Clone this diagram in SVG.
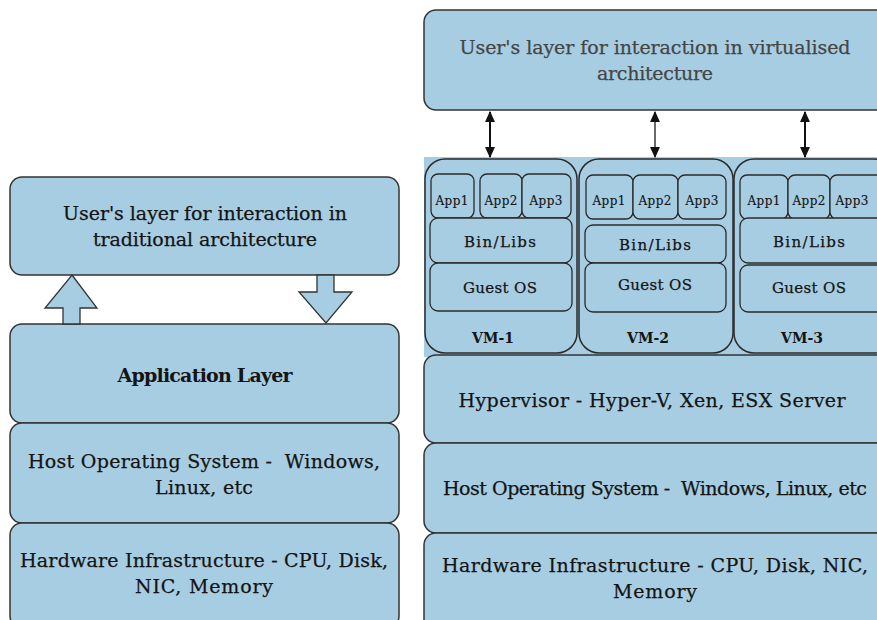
<svg xmlns="http://www.w3.org/2000/svg" width="877" height="620" viewBox="0 0 877 620">
  <defs>
    <marker id="ah" viewBox="0 0 10 10" refX="9" refY="5" markerWidth="11" markerHeight="11" markerUnits="userSpaceOnUse" orient="auto-start-reverse">
      <path d="M0,0.5 L10,5 L0,9.5 Z" fill="#111"/>
    </marker>
  </defs>
  <style>
    .box { fill: #a7cde2; stroke: #333; stroke-width: 1.5; }
    .vm { fill: #a7cde2; stroke: #2a2a2a; stroke-width: 1.5; }
    .in { fill: #a7cde2; stroke: #2a2a2a; stroke-width: 1.3; }
    .fat { fill: #a7cde2; stroke: #333; stroke-width: 1.3; stroke-linejoin: miter; }
    text { font-family: "DejaVu Serif", "Liberation Serif", serif; fill: #141414; text-anchor: middle; stroke: #141414; stroke-width: 0.25; }
    .t { font-size: 19px; }
    .tb { font-size: 19px; font-weight: bold; stroke-width: 0; }
    .title { font-size: 19px; fill: #454545; stroke: #454545; }
    .s { font-size: 12px; stroke-width: 0.15; }
    .m { font-size: 15px; }
    .vl { font-size: 14px; font-weight: bold; stroke-width: 0; }
    .conn { stroke: #111; stroke-width: 2; fill: none; }
  </style>

  <!-- background band behind VMs -->
  <rect x="424" y="157" width="460" height="200" fill="#a7cde2"/>

  <!-- Left: traditional architecture -->
  <g id="user-traditional">
    <rect class="box" x="10" y="177" width="389" height="98" rx="12"/>
    <text class="t" x="205" y="220" textLength="284">User's layer for interaction in</text>
    <text class="t" x="205" y="246" textLength="224">traditional architecture</text>
  </g>
  <g id="application-layer">
    <rect class="box" x="10" y="324" width="389" height="99" rx="12"/>
    <text class="tb" x="205" y="382" textLength="175">Application Layer</text>
  </g>
  <g id="host-os-traditional">
    <rect class="box" x="10" y="423" width="389" height="100" rx="12"/>
    <text class="t" x="204" y="468" textLength="352" xml:space="preserve">Host Operating System -  Windows,</text>
    <text class="t" x="204" y="494" textLength="98">Linux, etc</text>
  </g>
  <g id="hardware-traditional">
    <rect class="box" x="10" y="523" width="389" height="105" rx="12"/>
    <text class="t" x="204" y="567" textLength="368">Hardware Infrastructure - CPU, Disk,</text>
    <text class="t" x="204" y="593" textLength="138">NIC, Memory</text>
  </g>

  <!-- Right: virtualised architecture -->
  <g id="user-virtualised">
    <rect class="box" x="424" y="10" width="470" height="100" rx="12"/>
    <text class="title" x="655" y="54" textLength="391">User's layer for interaction in virtualised</text>
    <text class="title" x="655" y="80" textLength="116">architecture</text>
  </g>

  <g id="vm-1">
    <rect class="vm" x="425" y="159" width="152" height="194" rx="20"/>
    <rect class="in" x="431" y="174" width="43" height="44" rx="7"/>
    <rect class="in" x="480" y="174" width="42" height="44" rx="7"/>
    <rect class="in" x="522" y="174" width="49" height="44" rx="7"/>
    <text class="s" x="452" y="205" textLength="33">App1</text>
    <text class="s" x="501" y="205" textLength="33">App2</text>
    <text class="s" x="546" y="205" textLength="33">App3</text>
    <rect class="in" x="430" y="218" width="142" height="45" rx="8"/>
    <text class="m" x="500" y="247" textLength="72">Bin/Libs</text>
    <rect class="in" x="430" y="263" width="142" height="48" rx="8"/>
    <text class="m" x="500" y="293" textLength="74">Guest OS</text>
    <text class="vl" x="493" y="343">VM-1</text>
  </g>

  <g id="vm-2">
    <rect class="vm" x="579" y="159" width="154" height="194" rx="20"/>
    <rect class="in" x="586" y="175" width="47" height="44" rx="7"/>
    <rect class="in" x="633" y="175" width="45" height="44" rx="7"/>
    <rect class="in" x="678" y="175" width="48" height="44" rx="7"/>
    <text class="s" x="609" y="205" textLength="33">App1</text>
    <text class="s" x="655" y="205" textLength="33">App2</text>
    <text class="s" x="702" y="205" textLength="33">App3</text>
    <rect class="in" x="585" y="225" width="141" height="38" rx="8"/>
    <text class="m" x="655" y="250" textLength="72">Bin/Libs</text>
    <rect class="in" x="585" y="263" width="141" height="49" rx="8"/>
    <text class="m" x="655" y="290" textLength="74">Guest OS</text>
    <text class="vl" x="648" y="343">VM-2</text>
  </g>

  <g id="vm-3">
    <rect class="vm" x="734" y="159" width="160" height="194" rx="20"/>
    <rect class="in" x="740" y="175" width="48" height="44" rx="7"/>
    <rect class="in" x="788" y="175" width="42" height="44" rx="7"/>
    <rect class="in" x="830" y="175" width="60" height="44" rx="7"/>
    <text class="s" x="764" y="205" textLength="33">App1</text>
    <text class="s" x="809" y="205" textLength="33">App2</text>
    <text class="s" x="852" y="205" textLength="33">App3</text>
    <rect class="in" x="740" y="218" width="150" height="45" rx="8"/>
    <text class="m" x="809" y="247" textLength="72">Bin/Libs</text>
    <rect class="in" x="740" y="265" width="150" height="47" rx="8"/>
    <text class="m" x="809" y="293" textLength="74">Guest OS</text>
    <text class="vl" x="802" y="343">VM-3</text>
  </g>

  <g id="hypervisor">
    <rect class="box" x="424" y="355" width="470" height="88" rx="12"/>
    <text class="t" x="652" y="407" textLength="387">Hypervisor - Hyper-V, Xen, ESX Server</text>
  </g>
  <g id="host-os-virtualised">
    <rect class="box" x="424" y="443" width="470" height="90" rx="12"/>
    <text class="t" x="655" y="495" textLength="424" xml:space="preserve">Host Operating System -  Windows, Linux, etc</text>
  </g>
  <g id="hardware-virtualised">
    <rect class="box" x="424" y="533" width="470" height="100" rx="12"/>
    <text class="t" x="655" y="572" textLength="426">Hardware Infrastructure - CPU, Disk, NIC,</text>
    <text class="t" x="655" y="598" textLength="84">Memory</text>
  </g>

  <!-- Connectors -->
  <g id="connectors">
    <polygon class="fat" points="72,275 97,308 80,308 80,324 63,324 63,308 45,308"/>
    <polygon class="fat" points="317,275 334,275 334,292 352,292 326,323 299,292 317,292"/>
    <line class="conn" x1="490" y1="112" x2="490" y2="157" marker-start="url(#ah)" marker-end="url(#ah)"/>
    <line class="conn" x1="655" y1="112" x2="655" y2="157" style="stroke:#6a6a6a" marker-start="url(#ah)" marker-end="url(#ah)"/>
    <line class="conn" x1="805" y1="112" x2="805" y2="157" marker-start="url(#ah)" marker-end="url(#ah)"/>
  </g>
</svg>
